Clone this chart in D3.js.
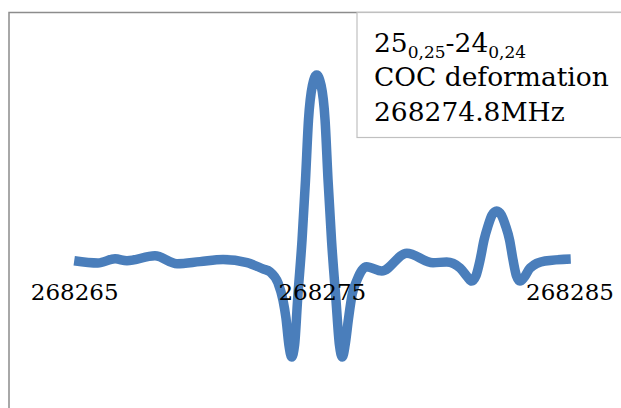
<!DOCTYPE html>
<html><head><meta charset="utf-8">
<script src="https://cdn.jsdelivr.net/npm/d3@7"></script>
<style>html,body{margin:0;padding:0;background:#fff;}svg{display:block;}</style>
</head><body>
<script>
// Frequency offsets (MHz above 268000) and relative intensity
const freqs = [265.00, 265.96, 266.65, 267.13, 268.26, 269.15, 270.08, 271.01, 271.98, 272.62, 272.91, 273.23, 273.43, 273.55, 273.67, 273.78, 273.90, 274.02, 274.20, 274.34, 274.46, 274.62, 274.79, 274.97, 275.13, 275.25, 275.39, 275.57, 275.71, 275.83, 275.94, 276.08, 276.22, 276.42, 276.62, 276.81, 277.42, 278.43, 279.49, 280.04, 280.58, 280.88, 281.05, 281.22, 281.39, 281.55, 281.71, 281.87, 282.06, 282.25, 282.42, 282.58, 282.72, 282.86, 283.00, 283.18, 283.41, 284.01, 285.05];
const intensity = [0.007, -0.005, 0.017, 0.007, 0.033, -0.009, 0.002, 0.013, -0.003, -0.037, -0.053, -0.112, -0.203, -0.299, -0.444, -0.508, -0.444, -0.203, 0.118, 0.439, 0.759, 0.945, 1.0, 0.945, 0.759, 0.439, 0.118, -0.203, -0.444, -0.508, -0.444, -0.299, -0.176, -0.096, -0.043, -0.025, -0.048, 0.047, -0.004, 0.0, -0.032, -0.080, -0.102, -0.075, 0.011, 0.118, 0.193, 0.251, 0.273, 0.251, 0.193, 0.118, 0.011, -0.075, -0.102, -0.080, -0.032, 0.005, 0.016];
const tickValues = [268265, 268275, 268285];
const tickLabels = ["268265", "268275", "268285"];
const legendLines = ["COC deformation", "268274.8MHz"];

const W = 621, H = 408;
const svg = d3.select("body").append("svg").attr("width", W).attr("height", H);

const x = d3.scaleLinear().domain([268265, 268285]).range([74.2, 569.5]);
const y = d3.scaleLinear().domain([-0.6, 1.1]).range([262 + 0.6 * 187, 262 - 1.1 * 187]);

// chart frame (cropped)
svg.append("path").attr("d", `M9,${H + 2} L9,12.5 L${W + 2},12.5`)
  .attr("fill", "none").attr("stroke", "#8c8c8c").attr("stroke-width", 1.5);

// series
const data = freqs.map((f, i) => ({ f: 268000 + f, v: intensity[i] }));
const line = d3.line().x(d => x(d.f)).y(d => y(d.v)).curve(d3.curveMonotoneX);
svg.append("path").datum(data).attr("d", line)
  .attr("fill", "none").attr("stroke", "#4a7ebb").attr("stroke-width", 9.5)
  .attr("stroke-linejoin", "round").attr("stroke-linecap", "butt");

// axis labels
const axis = d3.axisBottom(x).tickValues(tickValues).tickFormat((d, i) => tickLabels[i]).tickSize(0).tickPadding(0);
const ag = svg.append("g").attr("transform", `translate(0,${y(0)})`).call(axis);
ag.select(".domain").remove();
ag.selectAll("text").attr("font-family", "DejaVu Serif").attr("font-size", 23)
  .attr("fill", "#000").attr("dy", null).attr("y", 38);

// legend
const lg = svg.append("g");
lg.append("rect").attr("x", 357).attr("y", 12.5).attr("width", W).attr("height", 125)
  .attr("fill", "#fff").attr("stroke", "#c0c0c0").attr("stroke-width", 1.2);
const t1 = lg.append("text").attr("x", 374).attr("y", 52)
  .attr("font-family", "DejaVu Serif").attr("font-size", 26.5).attr("fill", "#000");
t1.append("tspan").text("25");
t1.append("tspan").attr("font-size", 17).attr("dy", 6).text("0,25");
t1.append("tspan").attr("dy", -6).text("-24");
t1.append("tspan").attr("font-size", 17).attr("dy", 6).text("0,24");
legendLines.forEach((s, i) => {
  lg.append("text").attr("x", 374).attr("y", 86 + i * 35)
    .attr("font-family", "DejaVu Serif").attr("font-size", 26.5).attr("fill", "#000").text(s);
});
</script>
</body></html>
